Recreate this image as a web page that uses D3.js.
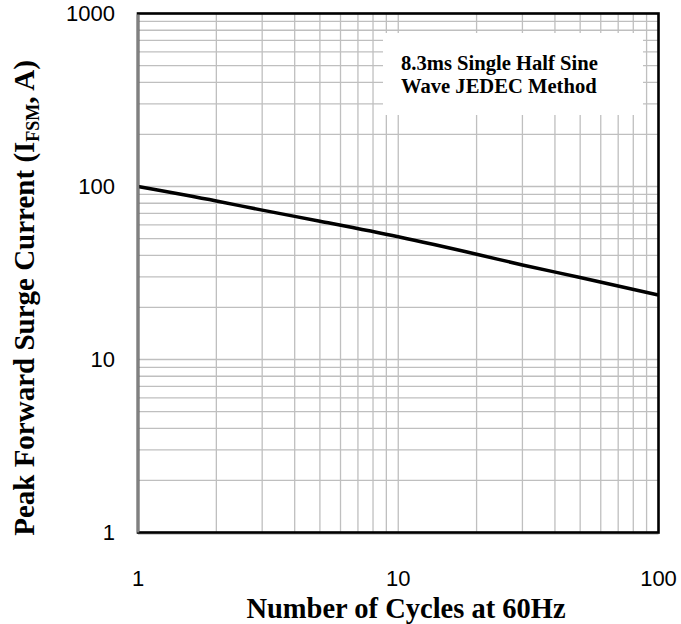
<!DOCTYPE html>
<html><head>
<meta charset="utf-8">
<title>Peak Forward Surge Current</title>
<style>
  body { margin: 0; background: #fff; }
  svg { display: block; }
  .tick-label { font-family: "Liberation Sans", Arial, sans-serif; font-size: 22px; fill: #000; }
  .title { font-family: "Liberation Serif", "Times New Roman", serif; font-weight: bold; font-size: 28.5px; fill: #000; }
  .note { font-family: "Liberation Serif", "Times New Roman", serif; font-weight: bold; font-size: 20.6px; fill: #000; }
  .grid { stroke: #bfbfbf; stroke-width: 1.3px; }
</style>
<script src="https://d3js.org/d3.v7.min.js"></script>
</head>
<body>
<div id="chart"></div>
<script>
// curve values
const cycles = [1, 2, 3, 5, 10, 20, 30, 50, 100];
const current = [100, 82.5, 73, 63, 51.2, 40.6, 35.2, 29.8, 23.6];

const xTicks = [1, 10, 100];
const yTicks = [1, 10, 100, 1000];
const noteLines = ["8.3ms Single Half Sine", "Wave JEDEC Method"];

const width = 681, height = 624;
const plotL = 138, plotR = 658.5, plotT = 13.5, plotB = 532.5;

const svg = d3.select("#chart").append("svg")
  .attr("width", width)
  .attr("height", height);

const x = d3.scaleLog().domain([1, 100]).range([plotL, plotR]);
const y = d3.scaleLog().domain([1, 1000]).range([plotB, plotT]);

// minor grid values 1..9 in every decade
function gridValues(lo, hi) {
  const v = [];
  for (let d = lo; d < hi; d *= 10) {
    for (let k = 1; k <= 9; k++) v.push(d * k);
  }
  v.push(hi);
  return v;
}

const g = svg.append("g");

g.selectAll(".vgrid")
  .data(gridValues(1, 100))
  .join("line")
  .attr("class", "grid")
  .attr("x1", d => x(d)).attr("x2", d => x(d))
  .attr("y1", plotT).attr("y2", plotB);

g.selectAll(".hgrid")
  .data(gridValues(1, 1000))
  .join("line")
  .attr("class", "grid")
  .attr("x1", plotL).attr("x2", plotR)
  .attr("y1", d => y(d)).attr("y2", d => y(d));

// note box covers the grid
g.append("rect")
  .attr("x", 383).attr("y", 33)
  .attr("width", 260).attr("height", 82)
  .attr("fill", "#fff");

g.selectAll(".note")
  .data(noteLines)
  .join("text")
  .attr("class", "note")
  .attr("x", 401)
  .attr("y", (d, i) => 70 + i * 23)
  .text(d => d);

// data line
const line = d3.line()
  .x(d => x(d[0]))
  .y(d => y(d[1]))
  .curve(d3.curveMonotoneX);

g.append("path")
  .datum(cycles.map((c, i) => [c, current[i]]))
  .attr("d", line)
  .attr("fill", "none")
  .attr("stroke", "#000")
  .attr("stroke-width", 3.5);

// frame
g.append("line")
  .attr("x1", plotL).attr("x2", plotR)
  .attr("y1", plotB + 1.5).attr("y2", plotB + 1.5)
  .attr("stroke", "#a0a0a0").attr("stroke-width", 1);
g.append("rect")
  .attr("x", plotL).attr("y", plotT)
  .attr("width", plotR - plotL).attr("height", plotB - plotT)
  .attr("fill", "none")
  .attr("stroke", "#000")
  .attr("stroke-width", 2.6);
g.append("line")
  .attr("x1", plotL).attr("x2", plotL)
  .attr("y1", plotT + 1).attr("y2", plotB)
  .attr("stroke", "#808080").attr("stroke-width", 2.6);

// tick labels
svg.selectAll(".ylab")
  .data(yTicks)
  .join("text")
  .attr("class", "tick-label")
  .attr("x", 115)
  .attr("y", d => y(d))
  .attr("dy", "0.35em")
  .attr("text-anchor", "end")
  .text(d => d);

svg.selectAll(".xlab")
  .data(xTicks)
  .join("text")
  .attr("class", "tick-label")
  .attr("x", d => x(d))
  .attr("y", 586)
  .attr("text-anchor", "middle")
  .text(d => d);

// axis titles
svg.append("text")
  .attr("class", "title")
  .attr("x", 406)
  .attr("y", 617.5)
  .attr("text-anchor", "middle")
  .text("Number of Cycles at 60Hz");

const yt = svg.append("text")
  .attr("class", "title")
  .attr("transform", "translate(34,298) rotate(-90)")
  .attr("text-anchor", "middle")
  .style("font-size", "29px");
yt.append("tspan").text("Peak Forward Surge Current (I");
yt.append("tspan").attr("font-size", "18px").attr("dy", 5).text("FSM");
yt.append("tspan").attr("dy", -5).text(", A)");
</script>
</body></html>
